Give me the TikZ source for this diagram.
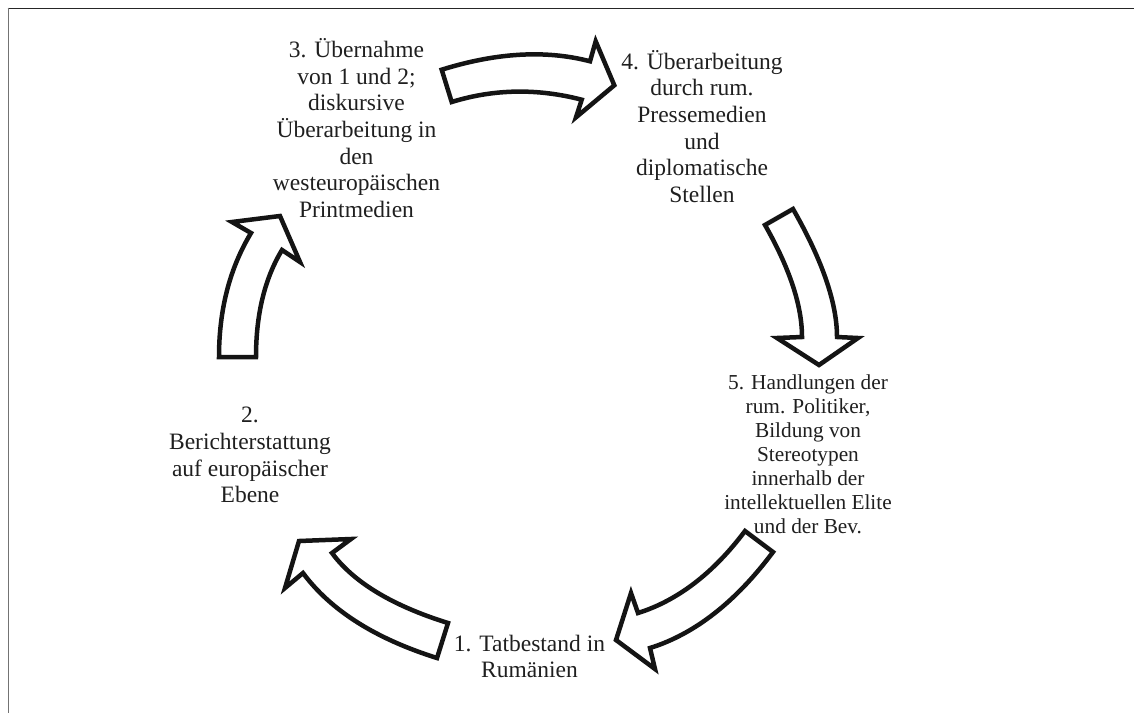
\documentclass[tikz,border=0pt]{standalone}
\usepackage{fontspec}
\setmainfont{Liberation Serif}
\usetikzlibrary{calc}
\tikzset{
  cyc/.style={draw=black!92, line width=4.5pt, fill=white, line join=miter, miter limit=6},
  lbl/.style={align=center, inner sep=0pt, text=black!88, font=\fontsize{23.5}{26.7}\selectfont},
  lblsmall/.style={align=center, inner sep=0pt, text=black!88, font=\fontsize{21.3}{24}\selectfont},
  frametop/.style={line width=1.8pt, draw=black!85},
  frameleft/.style={line width=1.8pt, draw=black!55},
}
\begin{document}
\begin{tikzpicture}[x=1pt, y=-1pt]
\useasboundingbox (0,0) rectangle (1134,713);
% frame (open on right and bottom)
\draw[frametop] (7.6,8.5) -- (1134,8.5);
\draw[frameleft] (8.5,7.6) -- (8.5,713);

% labels
\node[lbl] (n1) at (529.5,656.5) {1. Tatbestand in\\Rumänien};
\node[lbl] (n2) at (250,455) {2.\\Berichterstattung\\auf europäischer\\Ebene};
\node[lbl] (n3) at (356.5,128) {3. Übernahme\\von 1 und 2;\\diskursive\\Überarbeitung in\\den\\westeuropäischen\\Printmedien};
\node[lbl] (n4) at (702,126.5) {4. Überarbeitung\\durch rum.\\Pressemedien\\und\\diplomatische\\Stellen};
\node[lblsmall] (n5) at (808,454.5) {5. Handlungen der\\rum. Politiker,\\Bildung von\\Stereotypen\\innerhalb der\\intellektuellen Elite\\und der Bev.};

% arrow 1 -> 2
\draw[cyc] (448,623) -- (437,658)
  .. controls ($(437,658)!2/3!(344.5,629)$) and ($(303,573)!2/3!(344.5,629)$) .. (303,573)
  -- (285,588) -- (299,541) -- (351,539) -- (332,553)
  .. controls ($(332,553)!2/3!(364.5,597)$) and ($(448,623)!2/3!(364.5,597)$) .. (448,623)
  -- cycle;

% arrow 2 -> 3
\draw[cyc] (219,357)
  .. controls ($(219,357)!2/3!(219,286)$) and ($(251,233)!2/3!(219,286)$) .. (251,233)
  -- (232,222) -- (280,216) -- (300,262) -- (282,250)
  .. controls ($(282,250)!2/3!(256,293)$) and ($(256,357)!2/3!(256,293)$) .. (256,357)
  -- cycle;

% arrow 3 -> 4
\draw[cyc] (441.7,69.7)
  .. controls ($(441.7,69.7)!2/3!(524,44)$) and ($(590,61.3)!2/3!(524,44)$) .. (590,61.3)
  -- (595.7,41.3) -- (614.3,85.3) -- (576,117.3) -- (581.7,99.7)
  .. controls ($(581.7,99.7)!2/3!(515,82.4)$) and ($(451.7,102)!2/3!(515,82.4)$) .. (451.7,102)
  -- cycle;

% arrow 4 -> 5
\draw[cyc] (765,225)
  .. controls ($(765,225)!2/3!(802,290)$) and ($(802,337)!2/3!(802,290)$) .. (802,337)
  -- (777,338) -- (819,365) -- (858,338) -- (837,337)
  .. controls ($(837,337)!2/3!(837,286)$) and ($(793,209)!2/3!(837,286)$) .. (793,209)
  -- cycle;

% arrow 5 -> 1
\draw[cyc] (745,531) -- (773,552)
  .. controls ($(773,552)!2/3!(717,627)$) and ($(650,648)!2/3!(717,627)$) .. (650,648)
  -- (655,669) -- (616,640) -- (631,593) -- (638,613)
  .. controls ($(638,613)!2/3!(697.6,594.2)$) and ($(745,531)!2/3!(697.6,594.2)$) .. (745,531)
  -- cycle;
\end{tikzpicture}
\end{document}
